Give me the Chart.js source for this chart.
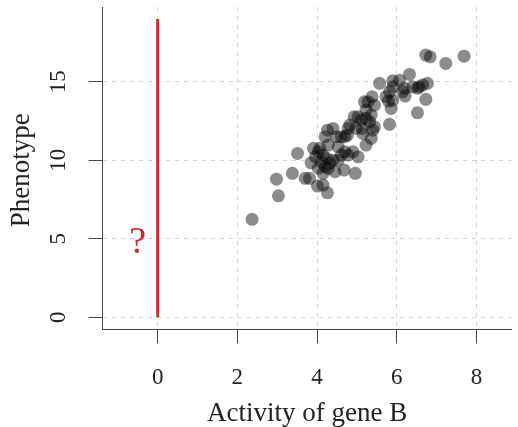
<!DOCTYPE html>
<html><head><meta charset="utf-8">
<script src="https://cdn.jsdelivr.net/npm/chart.js@4"></script>
<style>html,body{margin:0;padding:0;background:#fff}</style>
</head><body>
<canvas id="c" width="518" height="427" style="display:block;width:518px;height:427px"></canvas>
<script>
// ---- data ----
const geneB = [2.37,3.03,2.98,3.38,3.51,3.70,3.81,4.01,4.15,4.26,3.85,3.91,4.03,4.15,4.24,4.32,4.20,4.26,4.40,4.49,
  4.20,4.45,4.68,4.96,4.53,4.70,4.76,4.82,4.70,4.90,5.03,4.78,5.11,5.13,5.23,5.36,5.23,5.32,5.40,5.44,
  5.19,5.28,5.38,5.44,5.36,5.15,4.98,5.03,5.82,5.86,5.73,5.82,5.90,5.57,5.90,6.07,6.32,6.19,6.21,6.40,
  6.56,6.77,6.73,6.52,6.73,6.84,7.23,7.69,3.96,4.11,4.40,4.28,4.15,4.61,4.28,4.61,4.78,4.93,5.23,6.15,
  6.52,6.65,5.79,4.07,4.03,4.53,5.90];
const phenotype = [6.24,7.74,8.80,9.17,10.44,8.85,8.85,8.36,8.42,7.93,9.84,10.76,10.54,10.33,10.12,9.80,11.50,11.92,12.03,11.50,
  9.59,9.27,9.38,9.17,10.86,11.50,11.60,12.24,10.54,10.54,10.22,10.33,12.56,12.03,10.97,11.39,12.67,12.45,11.92,12.13,
  13.72,13.72,14.04,13.51,12.88,11.71,12.03,12.77,12.29,13.30,14.04,14.36,13.83,14.90,15.06,15.10,15.47,14.58,14.09,14.68,
  14.68,14.90,13.88,13.02,16.70,16.59,16.17,16.63,10.22,9.90,10.01,9.48,9.17,10.33,10.97,11.50,12.03,12.77,13.20,14.36,
  14.58,14.79,13.77,10.76,9.50,10.01,14.68];
const refLineX = [0, 0];
const refLineY = [0, 19];
const xTicks = [0, 2, 4, 6, 8];
const yTicks = [0, 5, 10, 15];
const xTitle = 'Activity of gene B';
const yTitle = 'Phenotype';
const noteText = '?';
const noteAt = [-0.5, 5];

// ---- chart ----
const SERIF = '"Liberation Serif", "DejaVu Serif", serif';
const AXIS = '#444';

const textPlugin = {
  id: 'rtext',
  afterDraw(chart) {
    const {ctx, chartArea: a, scales: {x, y}} = chart;
    ctx.save();
    ctx.fillStyle = '#222';
    ctx.font = '23px ' + SERIF;
    ctx.textAlign = 'center';
    ctx.textBaseline = 'alphabetic';
    xTicks.forEach(v => ctx.fillText(String(v), x.getPixelForValue(v), a.bottom + 55));
    yTicks.forEach(v => {
      ctx.save();
      ctx.translate(a.left - 37.5, y.getPixelForValue(v));
      ctx.rotate(-Math.PI / 2);
      ctx.fillText(String(v), 0, 0);
      ctx.restore();
    });
    ctx.font = '27px ' + SERIF;
    ctx.fillText(xTitle, (a.left + a.right) / 2, a.bottom + 92);
    ctx.save();
    ctx.translate(a.left - 73.5, (a.top + a.bottom) / 2 + 2);
    ctx.rotate(-Math.PI / 2);
    ctx.fillText(yTitle, 0, 0);
    ctx.restore();
    ctx.fillStyle = '#e0202c';
    ctx.font = '38px ' + SERIF;
    ctx.fillText(noteText, x.getPixelForValue(noteAt[0]), y.getPixelForValue(noteAt[1]) + 14);
    ctx.restore();
  }
};

const gridCommon = (ticks) => ({
  afterBuildTicks: s => { s.ticks = ticks.map(v => ({value: v})); },
  ticks: {display: false},
  grid: {color: '#d4d4d4', lineWidth: 1, drawTicks: true, tickLength: 14,
         tickColor: AXIS, tickWidth: 1, tickBorderDash: []},
  border: {display: true, color: AXIS, width: 1, dash: [4, 5]}
});

new Chart(document.getElementById('c'), {
  type: 'scatter',
  data: {
    datasets: [
      {
        type: 'line',
        data: refLineX.map((v, i) => ({x: v, y: refLineY[i]})),
        borderColor: '#e0202c', borderWidth: 3, pointRadius: 0, fill: false, order: 2
      },
      {
        data: geneB.map((v, i) => ({x: v, y: phenotype[i]})),
        backgroundColor: 'rgba(0,0,0,0.45)', borderWidth: 0, pointRadius: 6.5,
        pointHoverRadius: 6.5, order: 1
      }
    ]
  },
  options: {
    responsive: false, animation: false, devicePixelRatio: 1,
    layout: {padding: {left: 88.7, right: 4, top: 7, bottom: 83.7}},
    plugins: {legend: {display: false}, tooltip: {enabled: false}},
    scales: {
      x: Object.assign({type: 'linear', min: -1.38, max: 8.88}, gridCommon(xTicks)),
      y: Object.assign({type: 'linear', min: -0.76, max: 19.76}, gridCommon(yTicks))
    }
  },
  plugins: [textPlugin]
});
</script>
</body></html>
